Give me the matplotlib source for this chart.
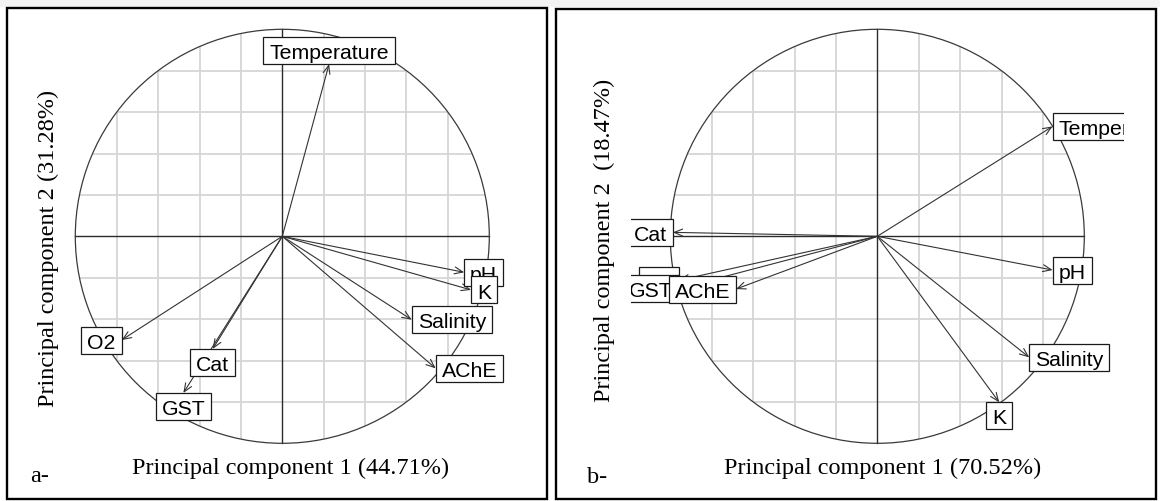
import numpy as np
import matplotlib
matplotlib.use("Agg")
import matplotlib.pyplot as plt
from matplotlib.patches import Rectangle, Circle, FancyArrowPatch
from matplotlib.font_manager import FontProperties

# correlations of each variable with PC1 / PC2 (label drawing order)
variables = ["Temperature", "pH", "K", "Salinity", "O2", "Cat", "GST", "AChE"]

pc1_a = [0.226, 0.879, 0.912, 0.625, -0.776, -0.336, -0.478, 0.741]
pc2_a = [0.832, -0.174, -0.259, -0.403, -0.501, -0.544, -0.757, -0.638]

pc1_b = [0.847, 0.847, 0.589, 0.734, -0.957, -0.988, -0.960, -0.683]
pc2_b = [0.531, -0.163, -0.802, -0.585, -0.212, 0.019, -0.253, -0.255]

xlabel_a = "Principal component 1 (44.71%)"
ylabel_a = "Principal component 2 (31.28%)"
xlabel_b = "Principal component 1 (70.52%)"
ylabel_b = "Principal component 2  (18.47%)"

W, H, DPI = 1160, 502, 100
R = 207.0     # pixels per unit of correlation
LIM = 1.19    # plot region half-width, in correlation units

label_font = FontProperties(family="Liberation Sans", size=15.3)
axis_font = FontProperties(family="Liberation Serif", size=17.5)

fig = plt.figure(figsize=(W / DPI, H / DPI), dpi=DPI)
fig.patch.set_facecolor("white")
renderer = fig.canvas.get_renderer()


def px(x, y):
    # image pixel (origin top-left) -> figure fraction
    return x / W, 1 - y / H


def corcircle(cx, cy, names, xs, ys):
    ax = fig.add_axes([(cx - LIM * R) / W, (H - cy - LIM * R) / H,
                       2 * LIM * R / W, 2 * LIM * R / H])
    ax.set_xlim(-LIM, LIM)
    ax.set_ylim(-LIM, LIM)
    ax.axis("off")

    circ = Circle((0, 0), 1, fill=False, ec="#3a3a3a", lw=0.9, zorder=3)
    ax.add_patch(circ)

    # light grid, only inside the circle
    for g in np.arange(-0.8, 0.81, 0.2):
        if abs(g) < 1e-9:
            continue
        lines = ax.plot([g, g], [-1, 1], color="#d6d6d6", lw=1.3, zorder=1)
        lines += ax.plot([-1, 1], [g, g], color="#d6d6d6", lw=1.3, zorder=1)
        for ln in lines:
            ln.set_clip_path(circ)

    ax.plot([-1, 1], [0, 0], color="#2b2b2b", lw=1.0, zorder=2)
    ax.plot([0, 0], [-1, 1], color="#2b2b2b", lw=1.0, zorder=2)

    for x, y in zip(xs, ys):
        ax.add_patch(FancyArrowPatch((0, 0), (x, y),
                                     arrowstyle="->,head_length=0.6,head_width=0.25",
                                     mutation_scale=10, lw=0.8, color="#333333",
                                     shrinkA=0, shrinkB=0, zorder=4))

    # boxed labels pushed outward from the arrow tip
    em = label_font.get_size_in_points() * DPI / 72
    for i, (name, x, y) in enumerate(zip(names, xs, ys)):
        tw, _, _ = renderer.get_text_width_height_descent(name, label_font, ismath=False)
        xh = (tw + 0.556 * em) / R
        yh = 0.635 * em / R
        if x > y and x > -y:
            x1, y1 = x + xh / 2, y
        elif x > y:
            x1, y1 = x, y - yh
        elif x <= -y:
            x1, y1 = x - xh / 2, y
        else:
            x1, y1 = x, y + yh
        ax.add_patch(Rectangle((x1 - xh / 2, y1 - yh), xh, 2 * yh, fc="white",
                               ec="#1a1a1a", lw=0.9, zorder=10 + 2 * i))
        ax.text(x1, y1 - 0.358 * em / R, name, ha="center", va="baseline",
                fontproperties=label_font, clip_on=True, zorder=11 + 2 * i)
    return ax


corcircle(282.3, 237.3, variables, pc1_a, pc2_a)
corcircle(877.3, 237.3, variables, pc1_b, pc2_b)

# thin grey strip along the top edge and the two panel frames
fig.add_artist(Rectangle(px(0, 8), 1, 8 / H, transform=fig.transFigure,
                         fc="#f3f3f3", ec="none", zorder=0))
for x0, y0, x1, y1 in [(7, 8.5, 547, 500), (555.5, 9.5, 1156, 500)]:
    fig.add_artist(Rectangle(px(x0, y1), (x1 - x0) / W, (y1 - y0) / H,
                             transform=fig.transFigure, fill=False,
                             ec="black", lw=1.7, zorder=20))

fig.text(*px(290.7, 474), xlabel_a, ha="center", va="baseline", fontproperties=axis_font)
fig.text(*px(48, 248), ylabel_a, ha="center", va="center", rotation=90,
         fontproperties=axis_font)
fig.text(*px(30, 482), "a-", ha="left", va="baseline", fontproperties=axis_font)

fig.text(*px(883, 474), xlabel_b, ha="center", va="baseline", fontproperties=axis_font)
fig.text(*px(604, 240), ylabel_b, ha="center", va="center", rotation=90,
         fontproperties=axis_font)
fig.text(*px(587, 483), "b-", ha="left", va="baseline", fontproperties=axis_font)

fig.savefig("out.png", dpi=DPI)
